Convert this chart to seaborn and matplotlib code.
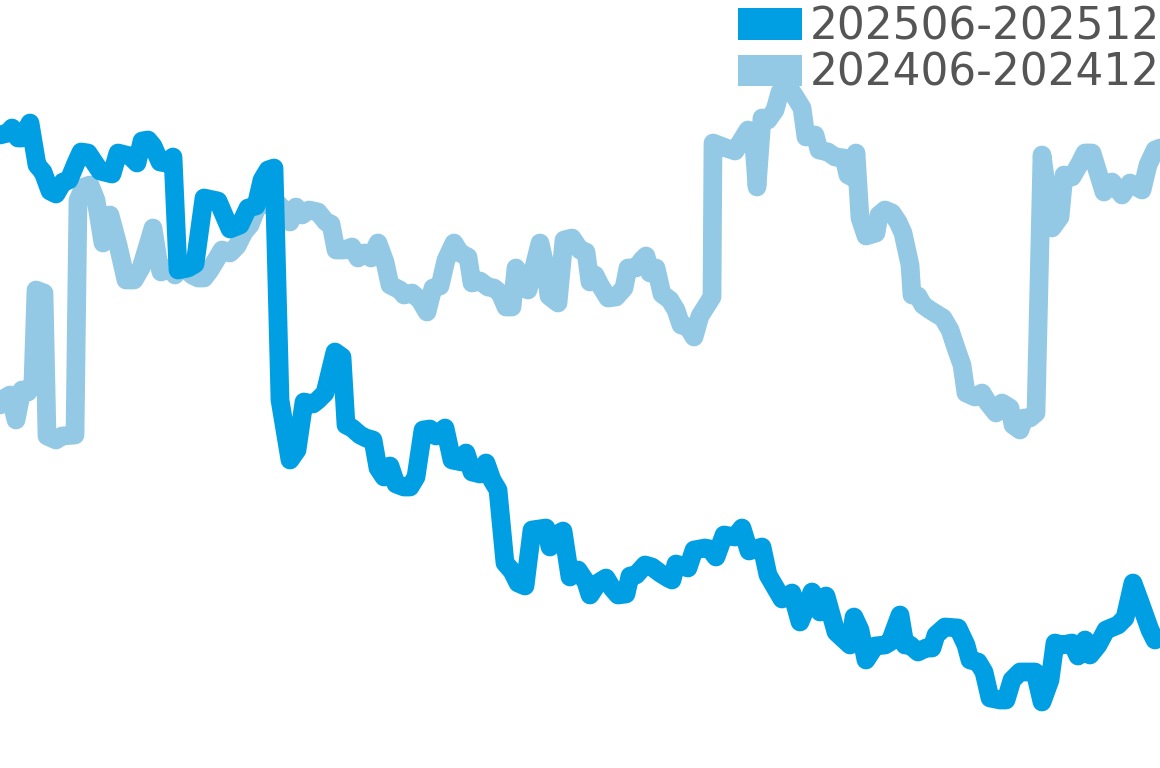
import numpy as np
import pandas as pd
import matplotlib
matplotlib.use("Agg")
import matplotlib.pyplot as plt
from matplotlib.patches import Patch
import seaborn as sns

# ---- data ----
label_2025 = "202506-202512"
label_2024 = "202406-202412"

days_2025 = [0, 4, 6, 9, 11, 15, 18.5, 21.5, 25, 28,
             31.5, 34.5, 38, 40.5, 44, 48, 50, 56, 59, 63,
             65, 68.5, 71, 74, 76.5, 80, 83, 86.5, 89, 94,
             97.5, 102, 106.5, 109, 115, 120, 124, 128, 131, 134,
             137, 140, 145, 148.5, 152, 156.5, 159, 162.5, 167.5, 171,
             173, 176, 180, 183, 186.5, 189, 192, 195, 198, 202,
             205, 208, 211.5, 215, 218, 222.5, 226, 231, 233, 236,
             240, 243, 246, 249, 252.5, 256, 259, 262.5, 266, 273,
             275, 278, 281.5, 285, 289, 293, 295, 299, 303, 306,
             309, 313, 315, 318, 322.5, 326, 330, 334, 336, 338,
             344, 347, 352.5, 355, 358, 362, 367.5, 371, 374.5, 381,
             384, 387.5, 391, 396, 400, 402.5, 406, 410, 413, 418,
             425, 427, 430, 433, 437.5, 442.5, 445, 450, 452.5, 455,
             459, 463, 466, 468, 472.5, 479, 483, 485, 489, 492,
             495, 500, 503, 506, 510, 517.5, 521, 525, 527.5, 531,
             536, 539, 542.5, 545, 549, 553, 559, 562.5, 566.5, 570,
             575, 577.5]
values_2025 = [66.5, 66.7, 67.2, 66.2, 66.2, 67.7, 63.5, 62.8, 60.9, 60.6,
               61.8, 62.0, 63.7, 64.8, 64.7, 63.5, 62.9, 62.6, 64.7, 64.5,
               64.4, 63.7, 65.9, 66.0, 65.4, 63.8, 63.7, 64.3, 53.0, 53.2,
               53.6, 60.2, 60.0, 59.9, 57.1, 57.5, 59.2, 59.4, 62.0, 63.0,
               63.2, 40.0, 34.0, 35.0, 39.8, 39.6, 40.0, 40.7, 44.8, 44.3,
               37.5, 37.2, 36.5, 36.2, 36.0, 33.2, 32.3, 33.4, 31.6, 31.3,
               31.3, 32.3, 37.0, 37.1, 36.4, 37.2, 34.0, 33.8, 34.7, 32.8,
               32.6, 33.7, 32.0, 31.0, 23.7, 22.9, 21.7, 21.4, 27.0, 27.2,
               25.3, 26.5, 26.9, 22.3, 23.0, 21.8, 20.5, 21.7, 22.2, 21.2,
               20.5, 20.6, 22.4, 22.5, 23.5, 23.3, 22.7, 22.2, 22.0, 23.6,
               23.2, 25.0, 25.2, 25.1, 24.3, 26.5, 26.3, 27.2, 24.9, 25.3,
               22.5, 21.3, 20.1, 20.7, 17.8, 19.0, 20.8, 18.8, 20.4, 16.8,
               15.5, 18.3, 17.0, 14.0, 15.4, 15.5, 15.8, 18.5, 15.5, 15.5,
               14.8, 15.2, 15.2, 16.5, 17.3, 17.2, 15.5, 14.0, 13.8, 12.8,
               10.2, 10.0, 10.0, 12.0, 12.8, 12.8, 9.8, 12.0, 15.7, 15.5,
               15.7, 14.4, 16.0, 14.5, 15.5, 17.0, 17.5, 18.2, 21.7, 19.8,
               17.0, 16.0]

days_2024 = [0, 2.5, 5, 8, 11, 14, 16.5, 18, 22, 23.5,
             28, 31, 37.5, 39, 42, 45, 48, 51.5, 55, 59,
             63, 67, 70.5, 74, 76.5, 79, 80.5, 85, 87.5, 91,
             96, 99, 102, 105, 108, 111, 115, 118.5, 122, 125,
             128, 131, 134, 137, 141, 145, 148, 151, 154.5, 159,
             163, 165.5, 168, 172, 176, 179, 182.5, 185.5, 189, 192.5,
             195, 200, 202, 206, 210, 213.5, 216.5, 220, 223, 227,
             230, 234, 236, 240, 244, 247, 250, 253, 256, 258,
             261, 264, 266, 270, 272.5, 274.5, 279, 282, 286, 290,
             293, 295, 297.5, 300, 304, 308, 312, 314, 318, 321,
             323, 325, 328, 331, 335, 338, 340.5, 344, 347, 350,
             356, 356.5, 363, 367.5, 370, 374, 377, 378.5, 381, 384,
             387.5, 390, 393.5, 397, 401, 403, 407.5, 409.5, 414, 417.5,
             422, 424, 426, 428, 430, 433, 438, 439.5, 442.5, 446,
             449, 451.5, 455, 456, 459, 461.5, 465, 471.5, 475, 478,
             481, 483, 487.5, 491, 494, 498, 501, 505, 506.5, 510,
             512, 515, 518, 521, 526, 530, 532, 536, 540, 542.5,
             546, 552, 556, 561, 565, 571, 574, 577.5, 580]
values_2024 = [39.5, 40.2, 40.5, 38.0, 41.0, 40.8, 41.8, 51.0, 50.7, 36.4,
               36.0, 36.4, 36.5, 60.0, 61.3, 61.5, 60.0, 55.7, 58.5, 55.5,
               52.0, 52.0, 53.2, 55.5, 57.2, 54.0, 52.8, 53.2, 52.5, 53.5,
               52.5, 52.2, 52.2, 53.0, 54.0, 55.0, 54.7, 55.4, 56.8, 57.5,
               59.0, 60.0, 59.5, 60.0, 59.2, 57.8, 59.3, 58.5, 59.0, 58.8,
               57.8, 57.6, 55.0, 55.0, 55.3, 54.2, 54.7, 54.2, 55.7, 53.8,
               51.5, 51.0, 50.5, 50.7, 50.0, 48.8, 51.2, 51.4, 54.0, 55.7,
               54.7, 54.3, 51.7, 51.9, 51.3, 51.2, 50.7, 49.3, 49.3, 53.2,
               51.8, 51.0, 52.5, 55.7, 53.5, 50.4, 49.7, 56.0, 56.2, 55.0,
               54.8, 51.8, 52.5, 51.5, 50.2, 50.3, 51.2, 53.2, 53.2, 54.0,
               54.4, 52.7, 53.2, 50.6, 50.0, 49.0, 47.5, 47.3, 46.3, 48.4,
               50.3, 65.7, 65.2, 64.9, 65.7, 67.0, 65.5, 61.3, 68.2, 68.0,
               69.0, 70.8, 71.5, 70.5, 69.2, 66.3, 66.5, 65.0, 64.8, 64.3,
               64.2, 62.5, 62.3, 64.7, 58.2, 56.4, 56.7, 58.5, 59.0, 58.7,
               57.8, 56.7, 53.5, 50.5, 50.4, 49.5, 49.0, 48.2, 47.0, 45.2,
               43.5, 40.7, 40.3, 40.7, 39.7, 38.7, 39.7, 39.2, 37.5, 37.0,
               38.2, 38.2, 38.7, 64.5, 57.2, 58.3, 62.5, 62.3, 63.7, 64.7,
               64.7, 60.8, 61.8, 60.5, 61.7, 61.0, 63.5, 65.0, 65.2]

color_2025 = "#009FE3"
color_2024 = "#93C9E4"

# ---- build long table ----
df = pd.concat([
    pd.DataFrame({"day": days_2024, "value": values_2024, "period": label_2024}),
    pd.DataFrame({"day": days_2025, "value": values_2025, "period": label_2025}),
], ignore_index=True)

sns.set_theme(style="white")
plt.rcParams["font.family"] = ["DejaVu Sans"]

fig = plt.figure(figsize=(11.6, 7.68), dpi=100)
ax = fig.add_axes([0, 0, 1, 1])

sns.lineplot(data=df, x="day", y="value", hue="period",
             hue_order=[label_2024, label_2025],
             palette=[color_2024, color_2025],
             estimator=None, sort=False, linewidth=13.5,
             solid_capstyle="round", solid_joinstyle="round",
             legend=False, ax=ax)

ax.set_xlim(0, 580)
ax.set_ylim(3.2, 80)
ax.set_axis_off()

handles = [Patch(facecolor=color_2025, edgecolor="none", label=label_2025),
           Patch(facecolor=color_2024, edgecolor="none", label=label_2024)]
leg = ax.legend(handles=handles, loc="upper right", bbox_to_anchor=(1.0, 0.993),
                frameon=False, fontsize=31.5, handlelength=1.45,
                handleheight=0.73, handletextpad=0.18, labelspacing=0.08,
                borderpad=0.0, borderaxespad=0.0)
for t in leg.get_texts():
    t.set_color("#555555")

fig.savefig("out.png", dpi=100)
